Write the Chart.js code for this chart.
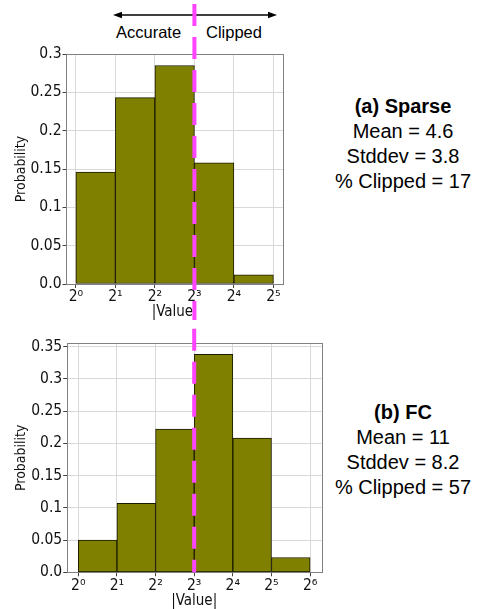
<!DOCTYPE html>
<html><head><meta charset="utf-8">
<script src="https://cdn.jsdelivr.net/npm/chart.js@4.4.0/dist/chart.umd.min.js"></script>
<style>
html,body{margin:0;padding:0;background:#fff;width:486px;height:609px;overflow:hidden;}
#wrap{position:relative;width:486px;height:609px;}
canvas{position:absolute;left:0;}
.ann{position:absolute;font-family:"Liberation Sans",Arial,sans-serif;color:#000;white-space:nowrap;font-size:16.5px;line-height:20px;}
.stats{position:absolute;font-family:"Liberation Sans",Arial,sans-serif;font-size:20px;line-height:25px;text-align:center;width:180px;color:#000;white-space:nowrap;}
.stats b{font-weight:bold;}
</style></head><body>
<div id="wrap">
<svg width="486" height="40" style="position:absolute;left:0;top:0">
  <line x1="119" y1="15" x2="271" y2="15" stroke="#000" stroke-width="1.3"/>
  <polygon points="113,15 122,11.8 122,18.2" fill="#000"/>
  <polygon points="277,15 268,11.8 268,18.2" fill="#000"/>
</svg>
<div class="ann" style="left:116px;top:22px;">Accurate</div>
<div class="ann" style="left:206px;top:22px;">Clipped</div>
<div class="stats" style="left:313px;top:94px;"><b>(a) Sparse</b><br>Mean = 4.6<br>Stddev = 3.8<br>% Clipped = 17</div>
<div class="stats" style="left:313px;top:400px;"><b>(b) FC</b><br>Mean = 11<br>Stddev = 8.2<br>% Clipped = 57</div>
<canvas id="cA" width="330" height="320" style="top:0;width:330px;height:320px;"></canvas>
<canvas id="cB" width="330" height="289" style="top:320px;width:330px;height:289px;"></canvas>
</div>
<script>
// x positions are log2(|value|)
const BIN_EDGES_A = [0, 1, 2, 3, 4, 5];
const PROB_A = [0.146, 0.243, 0.285, 0.158, 0.012];
const BIN_EDGES_B = [0, 1, 2, 3, 4, 5, 6];
const PROB_B = [0.050, 0.107, 0.222, 0.338, 0.208, 0.023];

const X_TICKS_A = [0, 1, 2, 3, 4, 5];
const X_TICK_LABELS_A = ['2⁰', '2¹', '2²', '2³', '2⁴', '2⁵'];
const X_TICKS_B = [0, 1, 2, 3, 4, 5, 6];
const X_TICK_LABELS_B = ['2⁰', '2¹', '2²', '2³', '2⁴', '2⁵', '2⁶'];

const Y_TICKS_A = [0, 0.05, 0.1, 0.15, 0.2, 0.25, 0.3];
const Y_TICK_LABELS_A = ['0.0', '0.05', '0.1', '0.15', '0.2', '0.25', '0.3'];
const Y_TICKS_B = [0, 0.05, 0.1, 0.15, 0.2, 0.25, 0.3, 0.35];
const Y_TICK_LABELS_B = ['0.0', '0.05', '0.1', '0.15', '0.2', '0.25', '0.3', '0.35'];
const Y_MAX_A = 0.3;
const Y_MAX_B = 0.355;

const CLIP_AT = 8; // clipping threshold |value|

const AXIS_FONT = "'DejaVu Sans Condensed', 'DejaVu Sans', sans-serif";

const overlayPlugin = {
  id: 'overlay',
  afterDatasetsDraw(chart, args, o) {
    const {ctx, chartArea: a} = chart;
    ctx.save();
    ctx.strokeStyle = '#808080';
    ctx.lineWidth = 1;
    ctx.setLineDash([]);
    ctx.strokeRect(Math.round(a.left) + 0.5, Math.round(a.top) + 0.5,
                   Math.round(a.right - a.left), Math.round(a.bottom - a.top));
    const x = chart.scales.x.getPixelForValue(Math.log2(CLIP_AT));
    ctx.strokeStyle = '#ff44ff';
    ctx.lineWidth = 4;
    ctx.setLineDash([22, 11]);
    ctx.lineDashOffset = o.dashOffset;
    ctx.beginPath();
    ctx.moveTo(x, o.yStart);
    ctx.lineTo(x, o.toArea ? a.bottom : chart.height);
    ctx.stroke();
    ctx.restore();
  }
};

function makeChart(id, edges, probs, xticks, xlabels, yticks, ylabels, ymax, lay) {
  const span = edges[edges.length - 1] - edges[0];
  const data = probs.map((p, i) => ({x: (edges[i] + edges[i + 1]) / 2, y: p}));
  return new Chart(document.getElementById(id), {
    type: 'bar',
    data: {datasets: [{
      data: data,
      backgroundColor: '#808000',
      borderColor: '#1a1a00',
      borderWidth: 1,
      borderSkipped: false,
      categoryPercentage: 1.0,
      barPercentage: 1.0
    }]},
    options: {
      responsive: false,
      animation: false,
      devicePixelRatio: 1,
      layout: {padding: {left: 0, right: lay.right, top: lay.top, bottom: 0}},
      plugins: {
        legend: {display: false},
        tooltip: {enabled: false},
        overlay: {dashOffset: lay.dashOffset, yStart: lay.yStart, toArea: lay.toArea}
      },
      scales: {
        x: {
          type: 'linear',
          offset: false,
          min: edges[0] - 0.05 * span,
          max: edges[edges.length - 1] + 0.05 * span,
          afterBuildTicks: s => { s.ticks = xticks.map(v => ({value: v})); },
          afterFit: s => { s.height = lay.xh; },
          grid: {offset: false, color: '#d9d9d9', lineWidth: 1, drawTicks: true, tickLength: 4, tickColor: '#444'},
          border: {display: false},
          ticks: {
            autoSkip: false, maxRotation: 0, padding: 0, color: '#111',
            font: {family: AXIS_FONT, size: 15.5},
            callback: (v) => xlabels[xticks.indexOf(v)]
          },
          title: {display: true, text: '|Value|', color: '#111', padding: 0,
                  font: {family: AXIS_FONT, size: 15, lineHeight: 1.1}}
        },
        y: {
          type: 'linear',
          min: 0,
          max: ymax,
          afterBuildTicks: s => { s.ticks = yticks.map(v => ({value: v})); },
          afterFit: s => { s.width = lay.yw; },
          grid: {color: '#d9d9d9', lineWidth: 1, drawTicks: true, tickLength: 3.5, tickColor: '#444'},
          border: {display: false},
          ticks: {
            padding: 1, color: '#111',
            font: {family: AXIS_FONT, size: 15.5},
            callback: (v) => ylabels[yticks.indexOf(v)]
          },
          title: {display: true, text: 'Probability', color: '#111', padding: {top: 14, bottom: 0},
                  font: {family: AXIS_FONT, size: 14, lineHeight: 1.1}}
        }
      }
    },
    plugins: [overlayPlugin]
  });
}

makeChart('cA', BIN_EDGES_A, PROB_A, X_TICKS_A, X_TICK_LABELS_A, Y_TICKS_A, Y_TICK_LABELS_A, Y_MAX_A,
  {right: 46.7, top: 54, xh: 36, yw: 66, dashOffset: 0, yStart: 4, toArea: false});
makeChart('cB', BIN_EDGES_B, PROB_B, X_TICKS_B, X_TICK_LABELS_B, Y_TICKS_B, Y_TICK_LABELS_B, Y_MAX_B,
  {right: 8.3, top: 23.3, xh: 36.7, yw: 66.7, dashOffset: 24.3, yStart: 0, toArea: true});
</script>
</body></html>
